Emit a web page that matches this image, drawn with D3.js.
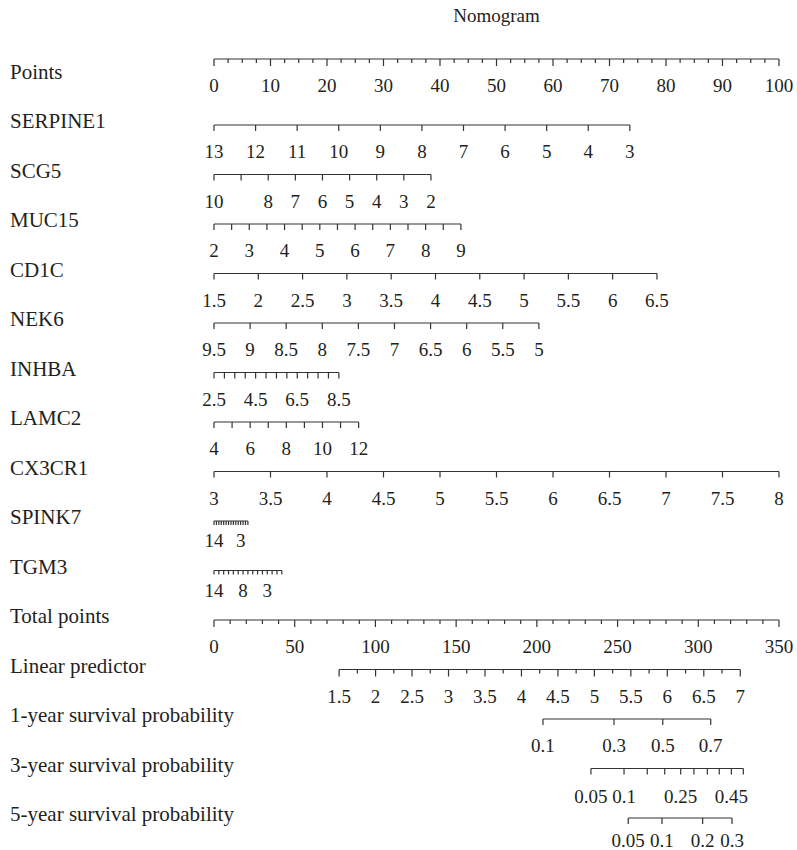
<!DOCTYPE html>
<html lang="en">
<head>
<meta charset="UTF-8">
<title>Nomogram</title>
<style>
  body { margin: 0; background: #fff; }
  svg text { font-family: "Liberation Serif", "Times New Roman", serif; fill: #231f20; }
</style>
<script src="https://d3js.org/d3.v7.min.js"></script>
</head>
<body>
<div id="chart"></div>
<script>
// ---- data ----
const rowNames = ["Points", "SERPINE1", "SCG5", "MUC15", "CD1C", "NEK6", "INHBA", "LAMC2",
  "CX3CR1", "SPINK7", "TGM3", "Total points", "Linear predictor",
  "1-year survival probability", "3-year survival probability", "5-year survival probability"];

// points axis
const pointsMajor = [0, 10, 20, 30, 40, 50, 60, 70, 80, 90, 100];
const pointsStep = 2.5;

// predictors: tick values, labelled values, points at first / last tick
const serpine1Ticks = [13, 12, 11, 10, 9, 8, 7, 6, 5, 4, 3];
const serpine1Labels = [13, 12, 11, 10, 9, 8, 7, 6, 5, 4, 3];
const serpine1Points = [0, 73.6];

const scg5Ticks = [10, 9, 8, 7, 6, 5, 4, 3, 2];
const scg5Labels = [10, 8, 7, 6, 5, 4, 3, 2];
const scg5Points = [0, 38.4];

const muc15Ticks = [2, 2.5, 3, 3.5, 4, 4.5, 5, 5.5, 6, 6.5, 7, 7.5, 8, 8.5, 9];
const muc15Labels = [2, 3, 4, 5, 6, 7, 8, 9];
const muc15Points = [0, 43.7];

const cd1cTicks = [1.5, 2, 2.5, 3, 3.5, 4, 4.5, 5, 5.5, 6, 6.5];
const cd1cLabels = [1.5, 2, 2.5, 3, 3.5, 4, 4.5, 5, 5.5, 6, 6.5];
const cd1cPoints = [0, 78.4];

const nek6Ticks = [9.5, 9, 8.5, 8, 7.5, 7, 6.5, 6, 5.5, 5];
const nek6Labels = [9.5, 9, 8.5, 8, 7.5, 7, 6.5, 6, 5.5, 5];
const nek6Points = [0, 57.5];

const inhbaTicks = [2.5, 3, 3.5, 4, 4.5, 5, 5.5, 6, 6.5, 7, 7.5, 8, 8.5];
const inhbaLabels = [2.5, 4.5, 6.5, 8.5];
const inhbaPoints = [0, 22.1];

const lamc2Ticks = [4, 5, 6, 7, 8, 9, 10, 11, 12];
const lamc2Labels = [4, 6, 8, 10, 12];
const lamc2Points = [0, 25.6];

const cx3cr1Ticks = [3, 3.5, 4, 4.5, 5, 5.5, 6, 6.5, 7, 7.5, 8];
const cx3cr1Labels = [3, 3.5, 4, 4.5, 5, 5.5, 6, 6.5, 7, 7.5, 8];
const cx3cr1Points = [0, 100];

const spink7Ticks = [14, 13, 12, 11, 10, 9, 8, 7, 6, 5, 4, 3, 2, 1, 0];
const spink7Labels = [14, 3];
const spink7Points = [0, 6.0];

const tgm3Ticks = [14, 13, 12, 11, 10, 9, 8, 7, 6, 5, 4, 3, 2, 1, 0];
const tgm3Labels = [14, 8, 3];
const tgm3Points = [0, 12.0];

// total points axis
const totalMajor = [0, 50, 100, 150, 200, 250, 300, 350];
const totalStep = 10;

// linear predictor
const lpMajor = [1.5, 2, 2.5, 3, 3.5, 4, 4.5, 5, 5.5, 6, 6.5, 7];
const lpStep = 0.25;
const lpTotal = [77.5, 326.0];   // total points at 1.5 and 7

// survival probabilities and their total-points positions
const surv1Ticks = [0.1, 0.3, 0.5, 0.7];
const surv1Total = [203.8, 247.8, 278.0, 307.7];
const surv1Labels = [0.1, 0.3, 0.5, 0.7];

const surv3Ticks = [0.05, 0.1, 0.15, 0.2, 0.25, 0.3, 0.35, 0.4, 0.45, 0.5];
const surv3Total = [233.5, 254.0, 268.4, 279.2, 289.1, 297.3, 305.6, 313.0, 320.5, 327.9];
const surv3Labels = [0.05, 0.1, 0.25, 0.45];

const surv5Ticks = [0.05, 0.1, 0.2, 0.3];
const surv5Total = [256.6, 277.5, 302.7, 320.9];
const surv5Labels = [0.05, 0.1, 0.2, 0.3];

// ---- layout ----
const width = 797, height = 850;
const fontSize = 19;      // title and tick labels
const nameSize = 21;      // row names
const ink = "#333";

const svg = d3.select("#chart").append("svg")
  .attr("width", width)
  .attr("height", height);

const xPts = d3.scaleLinear().domain([0, 100]).range([214, 779]);
const xTot = d3.scaleLinear().domain([0, 350]).range([214, 779]);

svg.append("text")
  .attr("x", (xPts.range()[0] + xPts.range()[1]) / 2)
  .attr("y", 22)
  .attr("text-anchor", "middle")
  .attr("font-size", fontSize)
  .text("Nomogram");

const rowY = i => i === 0 ? 59 : 125 + (i - 1) * 49.5;

// row names
svg.selectAll("text.rowname")
  .data(rowNames)
  .enter().append("text")
  .attr("class", "rowname")
  .attr("x", 10)
  .attr("y", (d, i) => i === 0 ? 79 : rowY(i) + 3)
  .attr("font-size", nameSize)
  .text(d => d);

// generic row: ticks -> pixel via pos(), labels drawn below
function drawRow(y, ticks, pos, labels, opt) {
  opt = Object.assign({ tick: 6, major: null, majorTick: 7, labelDy: 33, fmt: d => d }, opt || {});
  const g = svg.append("g");
  const xs = ticks.map(pos);
  g.append("line")
    .attr("x1", d3.min(xs)).attr("x2", d3.max(xs))
    .attr("y1", y).attr("y2", y)
    .attr("stroke", ink).attr("stroke-width", 1.2);
  g.selectAll("line.tick")
    .data(ticks)
    .enter().append("line")
    .attr("class", "tick")
    .attr("x1", pos).attr("x2", pos)
    .attr("y1", y)
    .attr("y2", d => y + (opt.major && opt.major.includes(d) ? opt.majorTick : opt.tick))
    .attr("stroke", ink).attr("stroke-width", 1.2);
  g.selectAll("text")
    .data(labels)
    .enter().append("text")
    .attr("x", pos)
    .attr("y", y + opt.labelDy)
    .attr("text-anchor", "middle")
    .attr("font-size", fontSize)
    .text(opt.fmt);
}

const stepTicks = (lo, hi, step) => d3.range(0, Math.round((hi - lo) / step) + 1).map(k => +(lo + k * step).toFixed(4));

// Points
drawRow(rowY(0), stepTicks(0, 100, pointsStep), xPts, pointsMajor, { tick: 4, major: pointsMajor });

// predictor rows
const predictors = [
  [serpine1Ticks, serpine1Labels, serpine1Points],
  [scg5Ticks, scg5Labels, scg5Points],
  [muc15Ticks, muc15Labels, muc15Points],
  [cd1cTicks, cd1cLabels, cd1cPoints],
  [nek6Ticks, nek6Labels, nek6Points],
  [inhbaTicks, inhbaLabels, inhbaPoints],
  [lamc2Ticks, lamc2Labels, lamc2Points],
  [cx3cr1Ticks, cx3cr1Labels, cx3cr1Points],
  [spink7Ticks, spink7Labels, spink7Points],
  [tgm3Ticks, tgm3Labels, tgm3Points]
];
predictors.forEach(([ticks, labels, pts], k) => {
  const toPts = d3.scaleLinear().domain([ticks[0], ticks[ticks.length - 1]]).range(pts);
  const small = k >= 8;
  drawRow(rowY(k + 1), ticks, d => xPts(toPts(d)), labels,
    small ? { tick: 4, labelDy: 26 } : {});
});

// Total points
drawRow(rowY(11), stepTicks(0, 350, totalStep), xTot, totalMajor, { tick: 4, major: totalMajor });

// Linear predictor
const lpToTot = d3.scaleLinear().domain([1.5, 7]).range(lpTotal);
drawRow(rowY(12), stepTicks(1.5, 7, lpStep), d => xTot(lpToTot(d)), lpMajor, { tick: 4, major: lpMajor });

// survival rows
[[surv1Ticks, surv1Total, surv1Labels, 33],
 [surv3Ticks, surv3Total, surv3Labels, 34],
 [surv5Ticks, surv5Total, surv5Labels, 29]].forEach(([ticks, tot, labels, dy], k) => {
  const pos = d => xTot(tot[ticks.indexOf(d)]);
  drawRow(rowY(13 + k), ticks, pos, labels, { labelDy: dy });
});
</script>
</body>
</html>
